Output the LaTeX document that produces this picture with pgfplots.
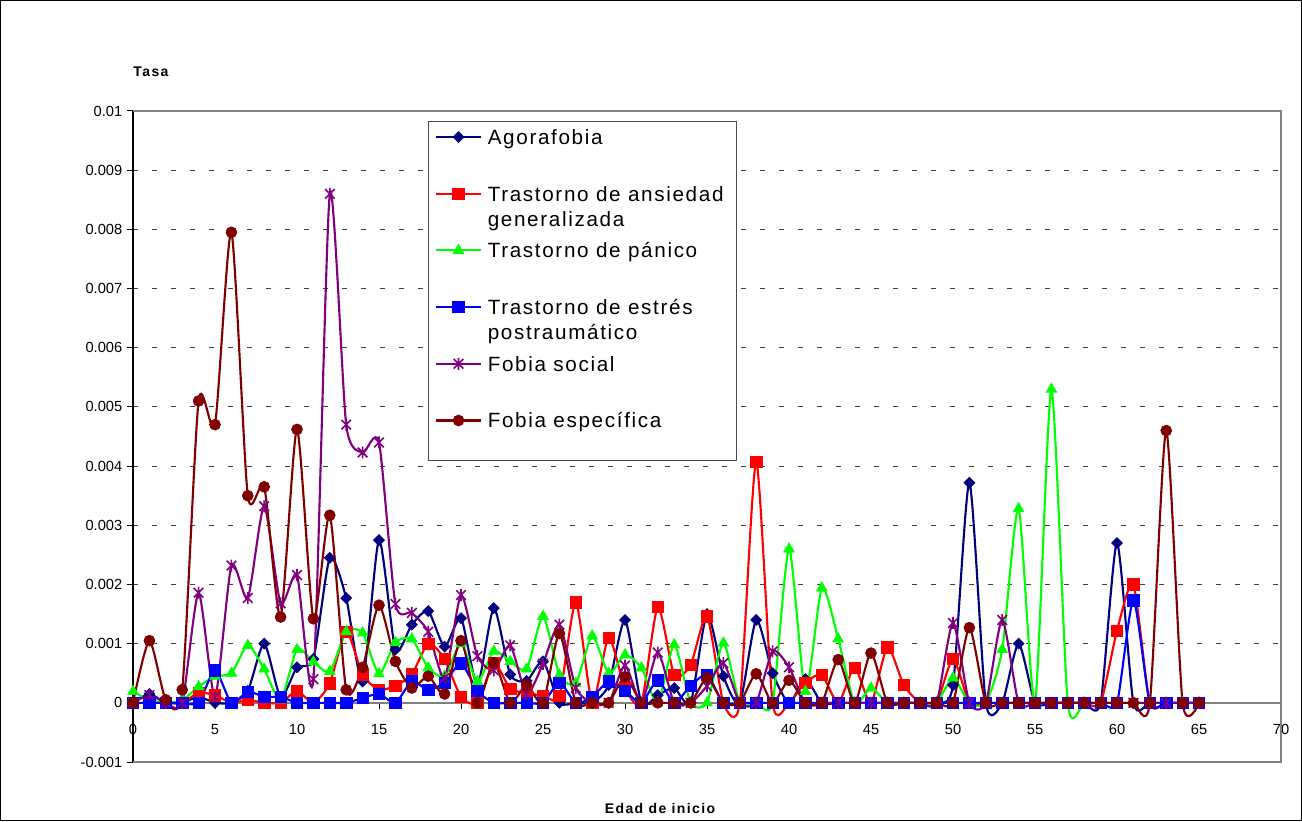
\documentclass[border=0pt]{standalone}
\usepackage{fontspec}
\setmainfont{Liberation Sans}
\usepackage{pgfplots}
\usepackage{pgfplotstable}
\pgfplotsset{compat=1.18}
\pgfdeclareplotmark{xstar}{%
  \pgfpathmoveto{\pgfqpoint{0pt}{-\pgfplotmarksize}}\pgfpathlineto{\pgfqpoint{0pt}{\pgfplotmarksize}}%
  \pgfpathmoveto{\pgfqpoint{-.8\pgfplotmarksize}{-.8\pgfplotmarksize}}\pgfpathlineto{\pgfqpoint{.8\pgfplotmarksize}{.8\pgfplotmarksize}}%
  \pgfpathmoveto{\pgfqpoint{-.8\pgfplotmarksize}{.8\pgfplotmarksize}}\pgfpathlineto{\pgfqpoint{.8\pgfplotmarksize}{-.8\pgfplotmarksize}}%
  \pgfusepathqstroke}
\definecolor{cA}{HTML}{000080}
\definecolor{cR}{HTML}{FF0000}
\definecolor{cG}{HTML}{00FF00}
\definecolor{cB}{HTML}{0000FF}
\definecolor{cP}{HTML}{800080}
\definecolor{cD}{HTML}{800000}
\newcommand\LE[2]{\vtop to 34pt{\hbox{\strut #1}\hbox{#2}\vss}}
\pgfplotstableread{
x A R G B P D
0 0 0 0.00019 0 0 0
1 0.00015 0 0.00005 0 0.00013 0.00105
2 0 0 0 0 0 0.00005
3 0 0 0.00005 0 0 0.00022
4 0.0001 0.00017 0.00027 0 0.00186 0.0051
5 0 0.00013 0.00045 0.00055 0.0001 0.0047
6 0 0 0.0005 0 0.00232 0.00795
7 0.0002 0.00005 0.00097 0.00019 0.00177 0.0035
8 0.001 0 0.00057 0.0001 0.00332 0.00365
9 0.0001 0 0.00005 0.0001 0.00168 0.00145
10 0.0006 0.0002 0.0009 0 0.00216 0.00462
11 0.00074 0 0.00069 0 0.0004 0.00142
12 0.00245 0.00033 0.00053 0 0.0086 0.00317
13 0.00177 0.0012 0.0012 0 0.0047 0.00022
14 0.00036 0.00048 0.00118 0.00008 0.00423 0.0006
15 0.00275 0.00022 0.00049 0.00015 0.0044 0.00165
16 0.0009 0.00029 0.00102 0 0.00167 0.0007
17 0.00132 0.00048 0.00108 0.00036 0.00152 0.00025
18 0.00155 0.001 0.00059 0.00022 0.0012 0.00045
19 0.00095 0.00074 0.00045 0.00034 0.00042 0.00015
20 0.00143 0.0001 0.001 0.00067 0.00182 0.00105
21 0.0003 0 0.00036 0.0002 0.00079 0
22 0.0016 0.00067 0.00087 0 0.00055 0.00068
23 0.00048 0.00024 0.0007 0 0.00097 0
24 0.00037 0.00017 0.00057 0 0.00015 0.0003
25 0.0007 0.00012 0.00146 0 0.00066 0
26 0 0.00012 0.00047 0.00034 0.00132 0.00117
27 0 0.0017 0.00033 0 0.00025 0
28 0 0 0.00113 0.0001 0 0
29 0.0003 0.0011 0.0005 0.00036 0 0
30 0.0014 0.00025 0.00081 0.0002 0.00063 0.00044
31 0 0 0.00059 0 0 0
32 0.00013 0.00162 0 0.00038 0.00085 0
33 0.00025 0.00047 0.00098 0 0 0
34 0 0.00064 0 0.00029 0 0
35 0.0015 0.00146 0 0.00047 0.00028 0.00042
36 0.00045 0 0.00101 0 0.00067 0
37 0 0 0 0 0 0
38 0.0014 0.00407 0 0 0 0.00049
39 0.0005 0 0 0 0.00087 0
40 0 0 0.0026 0 0.0006 0.00038
41 0.0004 0.00034 0.00019 0 0 0
42 0 0.00047 0.00194 0 0 0
43 0 0 0.00108 0 0 0.00073
44 0 0.00059 0 0 0 0
45 0 0 0.00025 0 0 0.00084
46 0 0.00094 0 0 0 0
47 0 0.0003 0 0 0 0
48 0 0 0 0 0 0
49 0 0 0 0 0 0
50 0.0003 0.00074 0.00042 0 0.00135 0
51 0.00372 0 0 0 0 0.00127
52 0 0 0 0 0 0
53 0 0 0.0009 0 0.0014 0
54 0.001 0 0.00328 0 0 0
55 0 0 0 0 0 0
56 0 0 0.0053 0 0 0
57 0 0 0 0 0 0
58 0 0 0 0 0 0
59 0 0 0 0 0 0
60 0.0027 0.00122 0 0 0 0
61 0 0.002 0 0.00173 0 0
62 0 0 0 0 0 0
63 0 0 0 0 0 0.0046
64 0 0 0 0 0 0
65 0 0 0 0 0 0
}\data
\begin{document}
\begin{tikzpicture}
\useasboundingbox (0,0) rectangle (976.5pt,615.75pt);
\draw[black, line width=0.75pt] (0.375pt,0.375pt) rectangle (976.125pt,615.375pt);
\begin{axis}[
  at={(99.75pt,44.25pt)}, anchor=south west,
  scale only axis, width=861pt, height=488.25pt,
  xmin=0, xmax=70, ymin=-0.001, ymax=0.01,
  axis x line=middle, axis y line=left,
  axis line style={-},
  x axis line style={black!50, line width=1.2pt},
  y axis line style={black, line width=1pt},
  hide obscured x ticks=false,
  xtick={0,5,...,70},
  ytick={-0.001,0,0.001,0.002,0.003,0.004,0.005,0.006,0.007,0.008,0.009,0.01},
  tick align=outside,
  major tick length=4.5pt,
  tick style={black, line width=0.75pt},
  ymajorgrids,
  major grid style={black!75, dash pattern=on 3.75pt off 10.5pt, line width=0.75pt},
  scaled y ticks=false,
  yticklabel style={/pgf/number format/fixed,/pgf/number format/precision=3},
  ticklabel style={font=\fontsize{11}{13}\selectfont},
  /pgf/number format/assume math mode=true,
  xticklabel style={yshift=-8pt},
  clip=false,
  legend style={at={(0.257,0.9892)}, anchor=north west, draw=none, fill=none,
    inner xsep=5pt, inner ysep=4.4pt, row sep=23.9pt, column sep=2.25pt,
    font=\fontsize{15.5}{18.75}\selectfont\addfontfeature{LetterSpace=8},
    cells={anchor=base west, inner sep=0pt}},
  legend image code/.code={\draw[mark repeat=2,mark phase=2] plot coordinates {(0pt,5.5pt) (16.875pt,5.5pt) (33.75pt,5.5pt)};},
  every axis plot/.append style={line width=1.6pt, tension=0.4},
]
\draw[black!50, line width=1.2pt] (rel axis cs:0,0) -- (rel axis cs:1,0) -- (rel axis cs:1,1) -- (rel axis cs:0,1);
\addplot[cA, smooth, mark=square*, mark size=2.9pt, mark options={solid, rotate=45, fill=cA, line width=0.5pt}] table[x=x,y=A] {\data};
\addlegendentry{\LE{Agorafobia}{}}
\addplot[cR, smooth, mark=square*, mark size=4.3pt, mark options={solid, fill=cR, line width=0.5pt}] table[x=x,y=R] {\data};
\addlegendentry{\LE{Trastorno de ansiedad}{generalizada}}
\addplot[cG, smooth, mark=triangle*, mark size=4.6pt, mark options={solid, fill=cG, line width=0.5pt}] table[x=x,y=G] {\data};
\addlegendentry{\LE{Trastorno de pánico}{}}
\addplot[cB, smooth, mark=square*, mark size=4.3pt, mark options={solid, fill=cB, line width=0.5pt}] table[x=x,y=B] {\data};
\addlegendentry{\LE{Trastorno de estrés}{postraumático}}
\addplot[cP, smooth, mark=xstar, mark size=4.5pt, mark options={solid, line width=1.2pt}] table[x=x,y=P] {\data};
\addlegendentry{\LE{Fobia social}{}}
\addplot[cD, smooth, mark=*, mark size=4.1pt, mark options={solid, fill=cD, line width=0.5pt}] table[x=x,y=D] {\data};
\addlegendentry{\LE{Fobia específica}{}}
\filldraw[draw=black!70, fill=white, line width=0.75pt] (rel axis cs:0.2570,0.4624) rectangle (rel axis cs:0.5253,0.9846);
\end{axis}
\node[font=\bfseries\fontsize{10.5}{12}\selectfont\addfontfeature{LetterSpace=10}] at (113.25pt,561.75pt) {Tasa};
\node[font=\bfseries\fontsize{10.5}{12}\selectfont\addfontfeature{LetterSpace=10}] at (495pt,9.75pt) {Edad de inicio};
\end{tikzpicture}
\end{document}
